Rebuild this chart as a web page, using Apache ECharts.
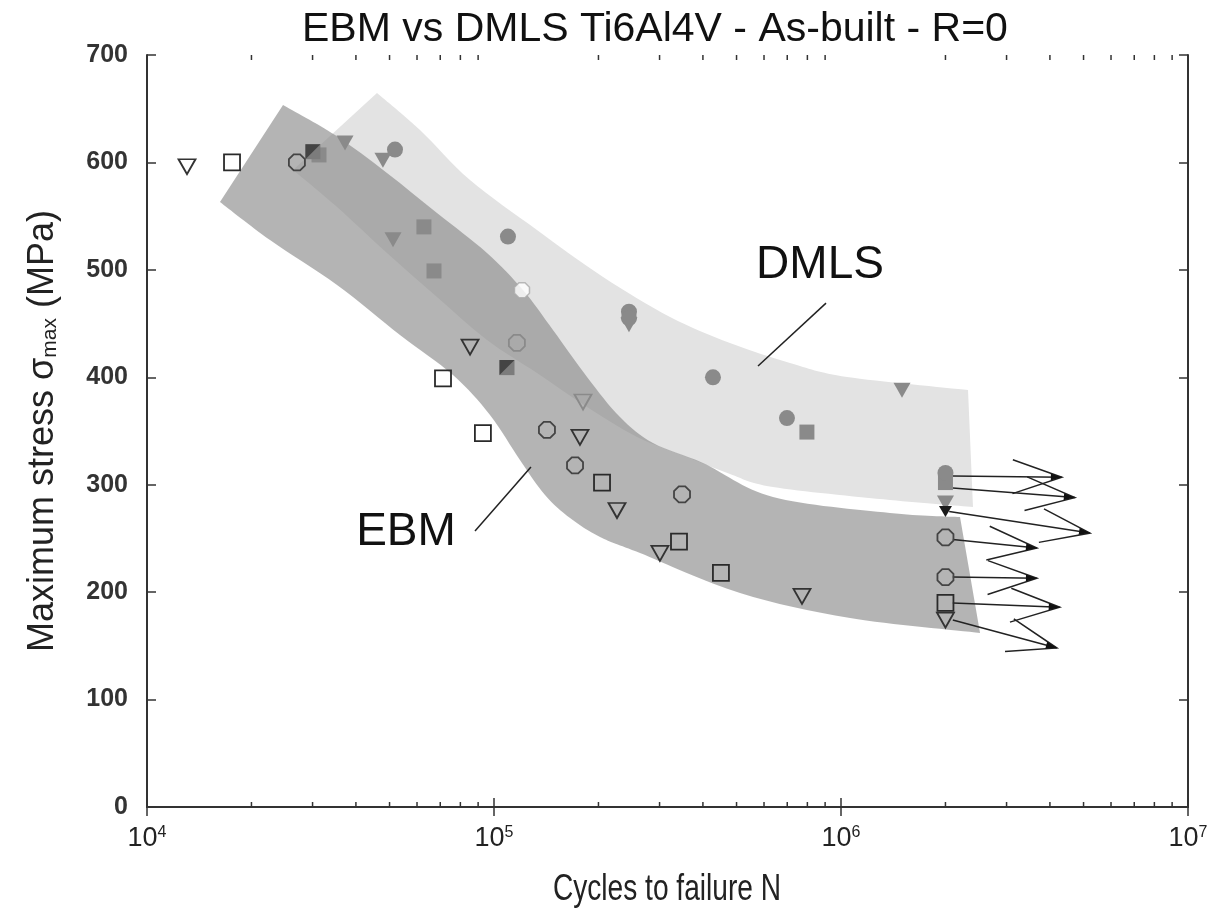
<!DOCTYPE html>
<html>
<head>
<meta charset="utf-8">
<title>EBM vs DMLS Ti6Al4V</title>
<script src="https://cdn.jsdelivr.net/npm/echarts@6/dist/echarts.min.js"></script>
<style>
  html, body { margin: 0; padding: 0; background: #fff; }
  #grafico { width: 1220px; height: 923px; }
</style>
</head>
<body>
<div id="grafico"></div>
<script>
// Datos: [ciclos N, tensión máxima MPa]

// EBM (símbolos abiertos)
const ebmTriangulos = [[13040, 596], [85300, 428], [176900, 344], [226200, 276], [300700, 236], [772000, 196], [2.0e6, 174]];
const ebmCuadrados = [[17580, 600], [71290, 399], [92900, 348], [204800, 302], [341300, 247], [450800, 218], [2.0e6, 190]];
const ebmCirculos = [[27040, 600], [142100, 351], [171200, 318], [348200, 291], [2.0e6, 251], [2.0e6, 214]];
const ebmTriangulosGris = [[180500, 377]];
const ebmCirculosGris = [[116400, 432]];
const cuadradosMixtos = [[30070, 610], [109000, 409]];

// DMLS (símbolos rellenos)
const dmlsCirculos = [[51840, 612], [109700, 531], [244900, 461], [244900, 455], [427600, 400], [698700, 362], [2.0e6, 311]];
const dmlsCuadrados = [[31310, 607], [62810, 540], [67150, 499], [797600, 349], [2.0e6, 302]];
const dmlsTriangulos = [[37210, 618], [47860, 602], [51170, 528], [244900, 449], [1.499e6, 388], [2.0e6, 283]];
const dmlsTriangulosNegros = [[2.0e6, 275]];
const dmlsCirculosBlancos = [[120400, 481]];

// Flechas de run-out: [N inicio, tensión inicio, N punta, tensión punta]
const flechasRunout = [
    [2.1e6, 308, 4.33e6, 307],
    [2.1e6, 297, 4.72e6, 288],
    [2.05e6, 275, 5.22e6, 255],
    [2.1e6, 249, 3.67e6, 241],
    [2.1e6, 214, 3.67e6, 213],
    [2.1e6, 190, 4.27e6, 186],
    [2.1e6, 174, 4.19e6, 148]
];

// Bandas de dispersión: borde superior e inferior, de izquierda a derecha
const bandaEBMsup = [
    [24660, 653.5], [34830, 625.5], [49150, 590.2], [68500, 552.9], [95450, 515.7], [121200, 481.2],
    [147900, 444.0], [185400, 400.3], [230700, 363.0], [287200, 338.8], [400300, 320.2], [636800, 288.6],
    [1384000, 273.7], [2203000, 269.9]
];
const bandaEBMinf = [
    [16230, 563.2], [22620, 527.8], [35290, 485.9], [53590, 439.4], [76180, 402.1], [97380, 364.9],
    [118800, 323.0], [140300, 290.4], [165600, 269.0], [202100, 251.3], [263500, 236.4], [511700, 199.2],
    [1062000, 175.9], [2516000, 162.0]
];
const bandaDMLSsup = [
    [46000, 664.6], [61190, 630.2], [85270, 583.6], [133000, 537.1], [206200, 493.3], [321600, 456.1],
    [478700, 431.9], [712800, 413.3], [1041000, 400.3], [2323000, 388.2]
];
const bandaDMLSinf = [
    [26350, 592.9], [35290, 558.5], [49150, 515.7], [68500, 474.7], [95450, 434.7], [133000, 404.0],
    [185400, 372.3], [258300, 344.4], [359900, 325.8], [478700, 310.0], [636800, 297.9], [1384000, 285.8],
    [2401000, 279.3]
];

// Etiquetas de las bandas
const etiquetasBanda = ['DMLS', 'EBM'];
const posicionEtiquetas = [[869900, 504], [55760, 256]];
const lineasEtiqueta = [[905400, 469, 576600, 410.5], [88160, 257, 127800, 316.5]];

// Marcas menores del eje logarítmico
const marcasMenoresX = [2e4, 3e4, 4e4, 5e4, 6e4, 7e4, 8e4, 9e4,
    2e5, 3e5, 4e5, 5e5, 6e5, 7e5, 8e5, 9e5,
    2e6, 3e6, 4e6, 5e6, 6e6, 7e6, 8e6, 9e6];

const fuente = "'Liberation Sans', Arial, sans-serif";
const octogono = 'path://M3,0 L7,0 L10,3 L10,7 L7,10 L3,10 L0,7 L0,3 Z';
const mitadOscura = 'path://M0,0 L10,0 L0,10 Z';

const grafico = echarts.init(document.getElementById('grafico'));

// Curva suave (Catmull-Rom) a través de los puntos, en píxeles
function tramoSuave(pts) {
    let d = '';
    for (let i = 0; i < pts.length - 1; i++) {
        const p0 = pts[i - 1] || pts[i], p1 = pts[i], p2 = pts[i + 1], p3 = pts[i + 2] || pts[i + 1];
        const c1 = [p1[0] + (p2[0] - p0[0]) / 6, p1[1] + (p2[1] - p0[1]) / 6];
        const c2 = [p2[0] - (p3[0] - p1[0]) / 6, p2[1] - (p3[1] - p1[1]) / 6];
        d += ' C' + c1[0] + ',' + c1[1] + ' ' + c2[0] + ',' + c2[1] + ' ' + p2[0] + ',' + p2[1];
    }
    return d;
}

function dibujarBanda(superior, inferior, estilo) {
    return function (params, api) {
        if (params.dataIndex !== 0) return null;
        const sup = superior.map(p => api.coord(p));
        const inf = inferior.map(p => api.coord(p)).reverse();
        const d = 'M' + sup[0][0] + ',' + sup[0][1] + tramoSuave(sup) +
            ' L' + inf[0][0] + ',' + inf[0][1] + tramoSuave(inf) + ' Z';
        return { type: 'path', shape: { pathData: d }, style: estilo, silent: true };
    };
}

function dibujarFlecha(params, api) {
    const p0 = api.coord([api.value(0), api.value(1)]);
    const p1 = api.coord([api.value(2), api.value(3)]);
    const ang = Math.atan2(p1[1] - p0[1], p1[0] - p0[0]);
    const largo = 52, abertura = 19 * Math.PI / 180;
    const b1 = [p1[0] - largo * Math.cos(ang - abertura), p1[1] - largo * Math.sin(ang - abertura)];
    const b2 = [p1[0] - largo * Math.cos(ang + abertura), p1[1] - largo * Math.sin(ang + abertura)];
    const pl = 11, pa = 3.5;
    const base = [p1[0] - pl * Math.cos(ang), p1[1] - pl * Math.sin(ang)];
    const punta = [
        p1,
        [base[0] + pa * Math.sin(ang), base[1] - pa * Math.cos(ang)],
        [base[0] - pa * Math.sin(ang), base[1] + pa * Math.cos(ang)]
    ];
    const trazo = { stroke: '#222', lineWidth: 1.5, fill: null };
    return {
        type: 'group',
        children: [
            { type: 'line', shape: { x1: p0[0], y1: p0[1], x2: p1[0], y2: p1[1] }, style: trazo },
            { type: 'polyline', shape: { points: [b1, p1, b2] }, style: trazo },
            { type: 'polygon', shape: { points: punta }, style: { fill: '#111' } }
        ]
    };
}

function dibujarMarcaMenor(params, api) {
    const x = api.value(0);
    const abajo = api.coord([x, 0]);
    const arriba = api.coord([x, 700]);
    const estilo = { stroke: '#333', lineWidth: 1.5 };
    return {
        type: 'group',
        children: [
            { type: 'line', shape: { x1: abajo[0], y1: abajo[1], x2: abajo[0], y2: abajo[1] - 5 }, style: estilo },
            { type: 'line', shape: { x1: arriba[0], y1: arriba[1], x2: arriba[0], y2: arriba[1] + 5 }, style: estilo }
        ]
    };
}

function dibujarEtiqueta(params, api) {
    const i = params.dataIndex;
    const c = api.coord(posicionEtiquetas[i]);
    const l = lineasEtiqueta[i];
    const a = api.coord([l[0], l[1]]);
    const b = api.coord([l[2], l[3]]);
    return {
        type: 'group',
        children: [
            {
                type: 'text', x: c[0], y: c[1],
                style: { text: etiquetasBanda[i], fill: '#111', font: '46px ' + fuente, align: 'center', verticalAlign: 'middle' }
            },
            { type: 'line', shape: { x1: a[0], y1: a[1], x2: b[0], y2: b[1] }, style: { stroke: '#222', lineWidth: 1.5 } }
        ]
    };
}

function serieAbierta(datos, simbolo, tam, color, rotar) {
    return {
        type: 'scatter', data: datos, symbol: simbolo, symbolSize: tam, symbolRotate: rotar || 0,
        itemStyle: { color: 'rgba(0,0,0,0)', borderColor: color, borderWidth: 1.8, opacity: 1 },
        z: 5
    };
}

function serieRellena(datos, simbolo, tam, color, rotar) {
    return {
        type: 'scatter', data: datos, symbol: simbolo, symbolSize: tam, symbolRotate: rotar || 0,
        itemStyle: { color: color, opacity: 1 },
        z: 4
    };
}

const ejeCaja = {
    axisLine: { show: true, lineStyle: { color: '#333', width: 2 } },
    axisTick: { show: true, inside: true, length: 9, lineStyle: { color: '#333', width: 1.5 } },
    splitLine: { show: false }
};

const opciones = {
    animation: false,
    backgroundColor: '#fff',
    title: {
        text: 'EBM vs DMLS Ti6Al4V - As-built - R=0',
        left: 297, top: 4,
        textStyle: { fontFamily: fuente, fontSize: 41, fontWeight: 'normal', color: '#111' }
    },
    // nombre del eje X con letra estrecha, como en el original
    graphic: [{
        type: 'text', x: 667, y: 890, scaleX: 0.76,
        style: { text: 'Cycles to failure N', font: '37px ' + fuente, fill: '#222', align: 'center', verticalAlign: 'middle' }
    }],
    grid: { left: 147, right: 32, top: 55, bottom: 116 },
    xAxis: [
        Object.assign({
            type: 'log', logBase: 10, min: 1e4, max: 1e7, position: 'bottom',
            axisLabel: {
                margin: 18,
                formatter: v => '{b|10}{s|' + Math.round(Math.log10(v)) + '}',
                rich: {
                    b: { fontFamily: fuente, fontSize: 27, color: '#222' },
                    s: { fontFamily: fuente, fontSize: 16, color: '#222', verticalAlign: 'top' }
                }
            }
        }, ejeCaja),
        Object.assign({
            type: 'log', logBase: 10, min: 1e4, max: 1e7, position: 'top',
            axisLabel: { show: false }
        }, ejeCaja)
    ],
    yAxis: [
        Object.assign({
            type: 'value', min: 0, max: 700, interval: 100, position: 'left',
            name: 'Maximum stress σ{sub|max} (MPa)', nameLocation: 'middle', nameGap: 86,
            nameTextStyle: {
                fontFamily: fuente, fontSize: 36, color: '#222',
                rich: { sub: { fontFamily: fuente, fontSize: 21, color: '#222', verticalAlign: 'bottom' } }
            },
            axisLabel: { margin: 19, fontFamily: fuente, fontSize: 25, fontWeight: 'bold', color: '#333' }
        }, ejeCaja),
        Object.assign({
            type: 'value', min: 0, max: 700, interval: 100, position: 'right',
            axisLabel: { show: false }
        }, ejeCaja)
    ],
    series: [
        {
            type: 'custom', data: [bandaDMLSsup[0]],
            renderItem: dibujarBanda(bandaDMLSsup, bandaDMLSinf, { fill: '#e3e3e3' }),
            z: 1, silent: true
        },
        {
            type: 'custom', data: [bandaEBMsup[0]],
            renderItem: dibujarBanda(bandaEBMsup, bandaEBMinf, { fill: 'rgb(138,138,138)', opacity: 0.64 }),
            z: 2, silent: true
        },
        {
            type: 'custom', data: marcasMenoresX.map(v => [v, 0]), renderItem: dibujarMarcaMenor,
            z: 3, silent: true, clip: false
        },
        {
            type: 'custom', data: flechasRunout, renderItem: dibujarFlecha,
            encode: { x: [0, 2], y: [1, 3] }, z: 3, silent: true
        },
        {
            type: 'custom', data: posicionEtiquetas, renderItem: dibujarEtiqueta,
            z: 6, silent: true
        },
        // DMLS
        serieRellena(dmlsCuadrados, 'rect', 15, '#8a8a8a'),
        serieRellena(dmlsCirculos, 'circle', 16, '#8a8a8a'),
        serieRellena(dmlsTriangulos, 'triangle', [17, 15], '#8a8a8a', 180),
        serieRellena(dmlsTriangulosNegros, 'triangle', [13, 11], '#1a1a1a', 180),
        Object.assign(serieAbierta(dmlsCirculosBlancos, octogono, 15, '#aaa'), { itemStyle: { color: '#fff', borderColor: '#aaa', borderWidth: 1.5 } }),
        // cuadrados de dos tonos
        serieRellena(cuadradosMixtos, 'rect', 15, '#7c7c7c'),
        Object.assign(serieRellena(cuadradosMixtos, mitadOscura, 15, '#444'), { z: 5 }),
        // EBM
        serieAbierta(ebmTriangulos, 'triangle', [17, 15], '#333', 180),
        serieAbierta(ebmCuadrados, 'rect', 16, '#2a2a2a'),
        serieAbierta(ebmCirculos, octogono, 16, '#444'),
        serieAbierta(ebmTriangulosGris, 'triangle', [17, 15], '#8a8a8a', 180),
        serieAbierta(ebmCirculosGris, octogono, 16, '#8a8a8a')
    ]
};

grafico.setOption(opciones);
window.addEventListener('resize', () => grafico.resize());
</script>
</body>
</html>
